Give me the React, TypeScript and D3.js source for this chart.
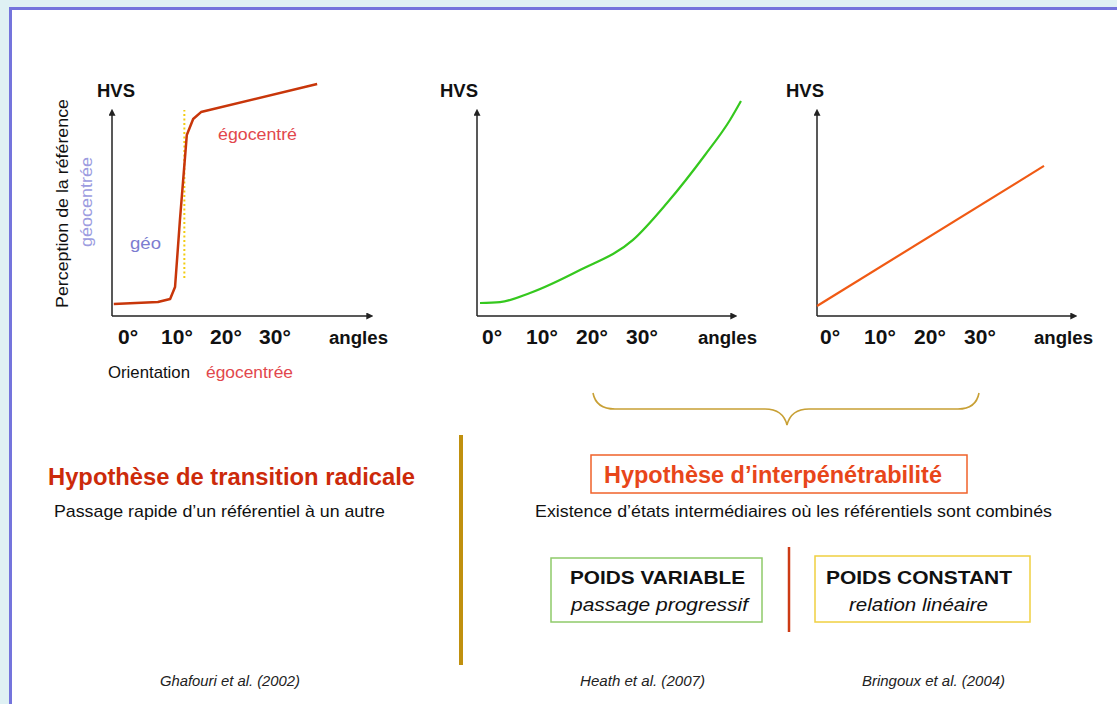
import * as d3 from 'd3';
import React from 'react';

const W = 1117;
const H = 704;

const tickDegrees = [0, 10, 20, 30];
const tickLabels = ['0°', '10°', '20°', '30°'];

// chart 1: sharp transition (degrees, HVS %)
const radicalX = [-2.9, 6.1, 8.6, 9.6, 10.6, 12.0, 13.3, 14.9, 38.6];
const radicalY = [5.2, 6.0, 7.3, 12.5, 41.4, 78.0, 84.9, 87.9, 100];
const transitionDeg = [11.5, 11.5];
const transitionHvs = [16.4, 88.8];

// chart 2: progressive
const progressiveX = [-2.4, 1.6, 7.6, 17.6, 28.2, 35.0, 42.6, 47.6, 49.8];
const progressiveY = [5.6, 6.0, 9.9, 19.8, 32.8, 48.7, 69.4, 84.5, 92.7];

// chart 3: linear
const linearX = [-2.6, 42.8];
const linearY = [4.3, 64.7];

const citations = ['Ghafouri et al. (2002)', 'Heath et al. (2007)', 'Bringoux et al. (2004)'];

const FONT = '"Liberation Sans", Arial, sans-serif';

type Panel = {
  zeroPx: number;
  pxPerDeg: number;
  axisLeft: number;
  axisRight: number;
  hvsX: number;
  anglesX: number;
};

const panels: Panel[] = [
  { zeroPx: 128, pxPerDeg: 4.9, axisLeft: 112, axisRight: 373, hvsX: 97, anglesX: 329 },
  { zeroPx: 492, pxPerDeg: 5.0, axisLeft: 477, axisRight: 737, hvsX: 440, anglesX: 698 },
  { zeroPx: 830, pxPerDeg: 5.0, axisLeft: 817, axisRight: 1077, hvsX: 786, anglesX: 1034 },
];

const axisBottom = 316;
const axisTop = 109;

const y = d3.scaleLinear().domain([0, 100]).range([axisBottom, 84]);

function xScale(p: Panel) {
  const d0 = (p.axisLeft - p.zeroPx) / p.pxPerDeg;
  const d1 = (p.axisRight - p.zeroPx) / p.pxPerDeg;
  return d3.scaleLinear().domain([d0, d1]).range([p.axisLeft, p.axisRight]);
}

type TProps = {
  x?: number; y?: number; size: number; fill?: string; bold?: boolean; italic?: boolean;
  anchor?: string; len?: number; transform?: string; family?: string; children: React.ReactNode;
};

function T({ x, y, size, fill = '#111', bold, italic, anchor, len, transform, family = FONT, children }: TProps) {
  return (
    <text x={x} y={y} transform={transform} fontFamily={family} fontSize={size} fill={fill}
      fontWeight={bold ? 'bold' : undefined} fontStyle={italic ? 'italic' : undefined}
      textAnchor={anchor} textLength={len} lengthAdjust={len ? 'spacingAndGlyphs' : undefined}>
      {children}
    </text>
  );
}

function Axes({ p }: { p: Panel }) {
  const x = xScale(p);
  return (
    <g>
      <line x1={p.axisLeft} y1={axisBottom} x2={p.axisLeft} y2={axisTop + 6} stroke="#222" strokeWidth={1.5} markerEnd="url(#arrow)" />
      <line x1={p.axisLeft} y1={axisBottom} x2={p.axisRight - 6} y2={axisBottom} stroke="#222" strokeWidth={1.5} markerEnd="url(#arrow)" />
      <T x={p.hvsX} y={97} size={18} bold len={38}>HVS</T>
      {tickDegrees.map((d, i) => (
        <T key={d} x={x(d)} y={344} anchor="middle" size={21} bold>{tickLabels[i]}</T>
      ))}
      <T x={p.anglesX} y={344} size={18} bold len={59}>angles</T>
    </g>
  );
}

function curvePath(p: Panel, xs: number[], ys: number[], curve: d3.CurveFactory) {
  const x = xScale(p);
  const pts = xs.map((v, i) => [v, ys[i]] as [number, number]);
  return d3.line<[number, number]>().x(d => x(d[0])).y(d => y(d[1])).curve(curve)(pts) || '';
}

export default function App() {
  const x1 = xScale(panels[0]);
  const brace = d3.path();
  brace.moveTo(593, 393);
  brace.quadraticCurveTo(596, 409, 615, 409);
  brace.lineTo(765, 409);
  brace.quadraticCurveTo(783, 409, 787, 425);
  brace.quadraticCurveTo(791, 409, 809, 409);
  brace.lineTo(958, 409);
  brace.quadraticCurveTo(976, 409, 979, 393);

  const narrow = '"Liberation Sans Narrow", "Liberation Sans", Arial, sans-serif';

  return (
    <svg width={W} height={H} style={{ position: 'absolute', left: 0, top: 0, display: 'block' }}>
      <defs>
        <marker id="arrow" viewBox="0 0 10 10" refX={1} refY={5} markerWidth={7} markerHeight={7} markerUnits="userSpaceOnUse" orient="auto">
          <path d="M0,0 L10,5 L0,10 z" fill="#222" />
        </marker>
      </defs>
      <rect x={0} y={0} width={W} height={H} fill="#dff1f4" />
      <rect x={10.5} y={8.5} width={W + 20} height={H + 20} fill="#fff" stroke="#7474dc" strokeWidth={3} />

      {panels.map((p, i) => <Axes key={i} p={p} />)}

      {/* chart 1 */}
      <line x1={x1(transitionDeg[0])} y1={y(transitionHvs[0])} x2={x1(transitionDeg[1])} y2={y(transitionHvs[1])}
        stroke="#f2cc10" strokeWidth={2} strokeDasharray="2,2.5" />
      <path d={curvePath(panels[0], radicalX, radicalY, d3.curveLinear)} fill="none" stroke="#c8360a" strokeWidth={2.5} strokeLinejoin="round" />
      <T x={218} y={140} size={17} fill="#e2474c" len={79}>égocentré</T>
      <T x={130} y={249} size={17} fill="#7c7cd0" len={31}>géo</T>
      <T transform="translate(68,308) rotate(-90)" size={17} len={209}>Perception de la référence</T>
      <T transform="translate(92,247) rotate(-90)" size={17} fill="#9c9ce0" len={90}>géocentrée</T>
      <T x={108} y={378} size={17} len={82}>Orientation</T>
      <T x={206} y={378} size={17} fill="#e2474c" len={87}>égocentrée</T>

      {/* chart 2 */}
      <path d={curvePath(panels[1], progressiveX, progressiveY, d3.curveMonotoneX)} fill="none" stroke="#35c81e" strokeWidth={2.2} />

      {/* chart 3 */}
      <path d={curvePath(panels[2], linearX, linearY, d3.curveLinear)} fill="none" stroke="#f05a14" strokeWidth={2.2} />

      {/* brace */}
      <path d={brace.toString()} fill="none" stroke="#c8a035" strokeWidth={1.6} />

      {/* left hypothesis */}
      <T x={48} y={485} size={23} bold fill="#cc2a0a" len={367}>Hypothèse de transition radicale</T>
      <T x={54} y={517} size={17} len={331}>Passage rapide d’un référentiel à un autre</T>

      <line x1={461} y1={435} x2={461} y2={665} stroke="#c0900e" strokeWidth={4} />

      {/* right hypothesis */}
      <rect x={591} y={455} width={376} height={38} fill="#fff" stroke="#f0622a" strokeWidth={1.5} />
      <T x={604} y={483} size={23} bold fill="#e8461a" len={338}>Hypothèse d’interpénétrabilité</T>
      <T x={535} y={517} size={17} len={517}>Existence d’états intermédiaires où les référentiels sont combinés</T>

      <rect x={551} y={558} width={211} height={64} fill="#fff" stroke="#8fca6a" strokeWidth={1.5} />
      <T x={570} y={584} size={18} bold len={175}>POIDS VARIABLE</T>
      <T x={571} y={611} size={19} italic len={177}>passage progressif</T>

      <line x1={789} y1={547} x2={789} y2={632} stroke="#cc3a14" strokeWidth={2.5} />

      <rect x={815} y={556} width={215} height={66} fill="#fff" stroke="#f0d040" strokeWidth={1.5} />
      <T x={826} y={584} size={18} bold len={186}>POIDS CONSTANT</T>
      <T x={849} y={611} size={19} italic len={139}>relation linéaire</T>

      {citations.map((c, i) => (
        <T key={c} x={[160, 580, 862][i]} y={686} size={14} italic family={narrow} fill="#222" len={[140, 125, 143][i]}>
          {c}
        </T>
      ))}
    </svg>
  );
}
